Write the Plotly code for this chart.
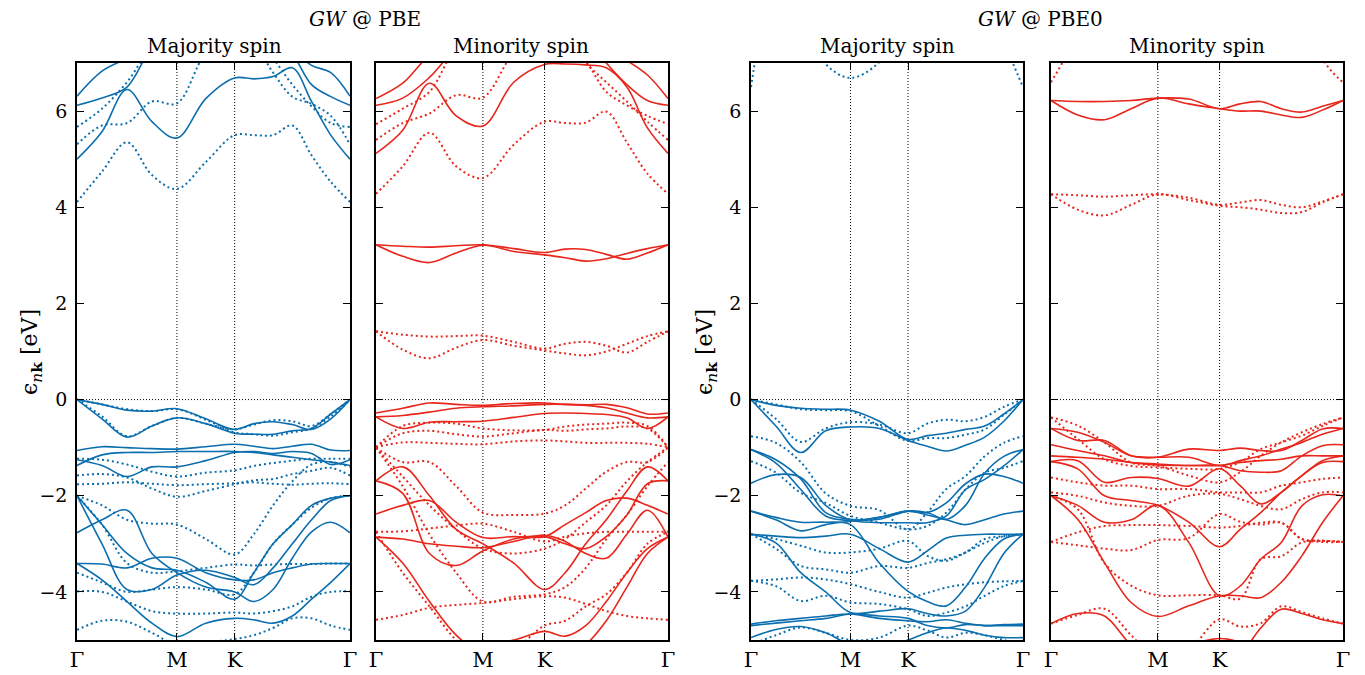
import plotly.graph_objects as go

# ---------------- data ----------------
K_PATH = [0.0, 0.1443, 0.2887, 0.4330, 0.5774, 0.7440, 0.9107,
          1.0218, 1.1329, 1.2440, 1.3552, 1.4663, 1.5774]
K_TICKS = [0.0, 0.5774, 0.9107, 1.5774]
K_LABELS = ["Γ", "M", "K", "Γ"]
E_TICKS = [-4, -2, 0, 2, 4, 6]
E_LABELS = ["−4", "−2", "0", "2", "4", "6"]

# GW@PBE, majority spin
pbe_up_solid = [
    [5.0, 5.57, 6.45, 5.78, 5.44, 6.26, 6.69, 6.67, 6.72, 6.9, 6.2, 5.5, 5.0],
    [6.12, 6.27, 6.5, 7.3, 7.6, 7.8, 7.8, 7.8, 7.6, 7.2, 6.55, 6.3, 6.12],
    [6.31, 6.83, 7.1, 7.4, 7.6, 7.8, 7.8, 7.8, 7.6, 7.3, 6.95, 6.8, 6.31],
    [0.0, -0.1, -0.22, -0.24, -0.19, -0.4, -0.62, -0.5, -0.46, -0.52, -0.62, -0.4, 0.0],
    [0.0, -0.4, -0.78, -0.55, -0.38, -0.5, -0.7, -0.72, -0.72, -0.65, -0.6, -0.3, 0.0],
    [-1.06, -0.98, -1.0, -1.02, -1.03, -0.98, -0.93, -0.97, -1.02, -0.97, -0.93, -1.05, -1.06],
    [-1.37, -1.15, -1.1, -1.1, -1.08, -1.08, -1.08, -1.1, -1.15, -1.2, -1.25, -1.3, -1.37],
    [-1.25, -1.37, -1.6, -1.4, -1.4, -1.27, -1.1, -1.08, -1.12, -1.08, -1.12, -1.35, -1.25],
    [-2.0, -2.6, -3.2, -3.5, -3.55, -3.8, -4.15, -3.6, -3.0, -2.6, -2.2, -2.05, -2.0],
    [-2.0, -3.0, -3.95, -3.95, -3.65, -3.55, -3.7, -3.85, -3.5, -3.0, -2.5, -2.1, -2.0],
    [-2.77, -2.5, -2.3, -3.2, -3.6, -3.9, -4.0, -4.2, -3.95, -3.3, -2.75, -2.55, -2.77],
    [-3.41, -3.42, -3.5, -3.3, -3.3, -3.6, -3.75, -3.75, -3.6, -3.5, -3.42, -3.41, -3.41],
    [-3.41, -3.75, -4.2, -4.65, -4.93, -4.65, -4.55, -4.58, -4.65, -4.5, -4.15, -3.8, -3.41],
]
pbe_up_dotted = [
    [4.11, 4.74, 5.35, 4.67, 4.38, 4.94, 5.5, 5.5, 5.5, 5.7, 5.08, 4.53, 4.11],
    [5.31, 5.7, 5.75, 6.2, 6.16, 7.2, 7.6, 7.4, 6.8, 6.3, 6.15, 5.9, 5.31],
    [5.67, 6.05, 6.6, 7.3, 7.5, 7.8, 7.8, 7.6, 7.1, 6.55, 6.1, 5.75, 5.67],
    [0.0, -0.35, -0.76, -0.55, -0.38, -0.5, -0.62, -0.52, -0.43, -0.45, -0.55, -0.3, 0.0],
    [0.0, -0.1, -0.2, -0.24, -0.2, -0.42, -0.68, -0.72, -0.75, -0.68, -0.6, -0.35, 0.0],
    [-1.23, -1.25, -1.35, -1.5, -1.6, -1.52, -1.47, -1.38, -1.32, -1.27, -1.23, -1.23, -1.23],
    [-1.58, -1.55, -1.62, -1.85, -2.02, -1.9, -1.76, -1.68, -1.65, -1.55, -1.48, -1.42, -1.58],
    [-1.76, -1.75, -1.72, -1.75, -1.78, -1.76, -1.74, -1.72, -1.75, -1.77, -1.75, -1.74, -1.76],
    [-2.0, -2.2, -2.5, -2.58, -2.6, -2.9, -3.22, -2.8, -2.2, -1.7, -1.35, -1.3, -1.4],
    [-2.0, -2.6, -3.4, -3.6, -3.57, -3.5, -3.43, -3.45, -3.43, -3.42, -3.42, -3.41, -3.41],
    [-3.99, -4.0, -4.2, -4.4, -4.45, -4.45, -4.43, -4.45, -4.4, -4.3, -4.1, -4.0, -3.99],
    [-4.79, -4.6, -4.62, -4.85, -5.1, -5.05, -4.98, -4.9, -4.75, -4.55, -4.55, -4.7, -4.79],
    [-3.6, -3.8, -4.0, -3.95, -3.9, -3.95, -4.05, -3.6, -3.0, -2.6, -2.25, -2.05, -2.0],
]

# GW@PBE, minority spin
pbe_dn_solid = [
    [5.12, 5.6, 6.58, 5.9, 5.69, 6.6, 6.97, 6.98, 6.96, 6.9, 6.5, 5.65, 5.12],
    [6.12, 6.27, 6.7, 7.3, 7.6, 7.8, 7.8, 7.8, 7.5, 7.0, 6.55, 6.22, 6.12],
    [6.26, 6.58, 7.15, 7.4, 7.6, 7.8, 7.8, 7.8, 7.6, 7.3, 7.05, 6.75, 6.26],
    [3.22, 3.19, 3.17, 3.2, 3.22, 3.14, 3.06, 3.13, 3.12, 3.02, 2.92, 3.05, 3.22],
    [3.22, 2.98, 2.85, 3.05, 3.21, 3.08, 3.01, 2.95, 2.88, 2.93, 3.04, 3.14, 3.22],
    [-0.28, -0.18, -0.07, -0.1, -0.12, -0.08, -0.07, -0.1, -0.11, -0.1, -0.17, -0.3, -0.28],
    [-0.36, -0.33, -0.26, -0.18, -0.15, -0.13, -0.1, -0.1, -0.12, -0.17, -0.28, -0.38, -0.36],
    [-0.36, -0.6, -0.47, -0.46, -0.45, -0.37, -0.29, -0.28, -0.29, -0.31, -0.38, -0.6, -0.36],
    [-1.69, -1.4, -2.0, -2.7, -3.0, -3.4, -3.95, -3.6, -3.0, -2.5, -1.9, -1.4, -1.69],
    [-2.38, -2.2, -2.1, -2.55, -2.87, -2.85, -2.85, -2.6, -2.35, -2.1, -2.05, -2.2, -2.38],
    [-2.86, -2.9, -3.0, -3.05, -3.08, -2.95, -2.82, -2.95, -3.2, -3.3, -2.8, -2.3, -2.86],
    [-2.86, -3.4, -4.2, -4.9, -5.3, -5.5, -5.5, -5.4, -5.1, -4.6, -3.9, -3.2, -2.86],
    [-1.69, -1.95, -3.2, -3.45, -3.15, -2.9, -2.85, -3.0, -3.1, -2.85, -2.4, -1.75, -1.69],
    [-5.5, -5.3, -5.3, -5.2, -5.1, -5.0, -4.82, -4.92, -4.7, -4.2, -3.6, -3.1, -2.86],
]
pbe_dn_dotted = [
    [4.28, 4.85, 5.55, 4.85, 4.61, 5.3, 5.78, 5.75, 5.76, 5.99, 5.35, 4.7, 4.28],
    [5.4, 5.75, 5.95, 6.33, 6.28, 7.2, 7.6, 7.5, 7.0, 6.6, 6.2, 5.78, 5.4],
    [5.73, 6.05, 6.4, 7.3, 7.6, 7.8, 7.8, 7.5, 7.05, 6.4, 6.12, 5.9, 5.73],
    [1.42, 1.35, 1.31, 1.32, 1.33, 1.2, 1.06, 1.16, 1.2, 1.12, 0.98, 1.2, 1.42],
    [1.42, 1.04, 0.86, 1.08, 1.24, 1.12, 1.02, 0.96, 0.92, 1.0, 1.16, 1.32, 1.42],
    [-0.99, -0.55, -0.48, -0.5, -0.6, -0.64, -0.63, -0.56, -0.52, -0.5, -0.48, -0.55, -0.99],
    [-0.99, -0.7, -0.65, -0.72, -0.77, -0.7, -0.63, -0.65, -0.62, -0.6, -0.56, -0.6, -0.99],
    [-0.99, -0.89, -0.9, -0.92, -0.93, -0.87, -0.85, -0.87, -0.9, -0.9, -0.9, -0.92, -0.99],
    [-2.75, -2.74, -2.68, -2.62, -2.58, -2.75, -2.95, -2.85, -2.78, -2.75, -2.75, -2.75, -2.75],
    [-1.0, -1.3, -1.3, -1.8, -2.35, -2.4, -2.37, -2.2, -1.85, -1.5, -1.3, -1.3, -1.0],
    [-1.0, -1.6, -2.2, -2.7, -3.1, -3.2, -3.1, -2.9, -2.55, -2.2, -1.7, -1.3, -1.0],
    [-4.58, -4.48, -4.33, -4.27, -4.23, -4.15, -4.09, -4.12, -4.25, -4.4, -4.5, -4.55, -4.58],
    [-2.75, -3.6, -4.3, -5.0, -5.4, -5.2, -4.7, -4.6, -4.3, -4.05, -3.6, -3.0, -2.75],
    [-1.0, -1.8, -2.8, -3.6, -4.2, -4.1, -4.05, -3.9, -3.5, -2.9, -2.4, -1.8, -1.3],
]

# GW@PBE0, majority spin
pbe0_up_solid = [
    [0.0, -0.12, -0.18, -0.2, -0.22, -0.45, -0.83, -0.75, -0.7, -0.62, -0.55, -0.3, 0.0],
    [0.0, -0.55, -1.1, -0.65, -0.57, -0.6, -0.85, -0.97, -1.07, -0.95, -0.78, -0.45, 0.0],
    [-1.04, -1.25, -1.65, -2.35, -2.49, -2.49, -2.32, -2.35, -2.49, -2.2, -1.53, -1.18, -1.04],
    [-1.04, -1.32, -1.87, -2.42, -2.52, -2.56, -2.56, -2.56, -2.42, -1.87, -1.66, -1.38, -1.04],
    [-1.74, -1.56, -1.62, -2.2, -2.5, -2.45, -2.32, -2.35, -2.15, -1.75, -1.55, -1.6, -1.74],
    [-2.32, -2.5, -2.73, -2.6, -2.53, -2.45, -2.32, -2.4, -2.5, -2.6, -2.5, -2.38, -2.32],
    [-2.8, -2.84, -2.87, -2.84, -2.8, -3.1, -3.38, -3.15, -2.88, -2.82, -2.8, -2.8, -2.8],
    [-2.8, -2.98, -3.6, -4.0, -4.43, -4.4, -4.35, -4.45, -4.5, -4.4, -3.9, -3.2, -2.8],
    [-2.32, -2.45, -2.55, -2.55, -2.6, -3.4, -3.99, -4.2, -4.29, -3.9, -3.3, -2.9, -2.8],
    [-4.67, -4.6, -4.55, -4.5, -4.46, -4.55, -4.6, -4.62, -4.58, -4.65, -4.7, -4.68, -4.67],
    [-4.7, -4.65, -4.6, -4.55, -4.46, -4.5, -4.55, -4.7, -4.75, -4.68, -4.7, -4.7, -4.7],
    [-4.95, -4.78, -4.72, -4.85, -5.1, -5.2, -5.0, -4.85, -4.75, -4.8, -4.9, -4.95, -4.95],
]
pbe0_up_dotted = [
    [6.5, 8.4, 8.0, 6.98, 6.69, 7.02, 8.0, 9.0, 9.0, 9.0, 9.0, 7.5, 6.5],
    [0.0, -0.4, -0.88, -0.6, -0.47, -0.52, -0.7, -0.5, -0.42, -0.45, -0.36, -0.15, 0.0],
    [0.0, -0.1, -0.2, -0.22, -0.24, -0.55, -0.86, -0.8, -0.8, -0.73, -0.62, -0.32, 0.0],
    [-0.76, -0.9, -1.3, -1.95, -2.21, -2.3, -2.7, -2.35, -1.86, -1.59, -1.18, -0.9, -0.76],
    [-1.28, -1.52, -1.94, -2.15, -2.42, -2.56, -2.7, -2.63, -2.35, -1.87, -1.52, -1.42, -1.28],
    [-2.8, -2.9, -3.04, -3.18, -3.18, -3.1, -2.94, -3.25, -3.35, -3.18, -2.98, -2.84, -2.8],
    [-2.8, -3.1, -3.46, -3.53, -3.6, -3.46, -3.5, -3.4, -3.32, -3.18, -2.9, -2.84, -2.8],
    [-3.77, -3.74, -3.7, -3.74, -3.84, -4.0, -4.12, -4.02, -3.91, -3.84, -3.8, -3.78, -3.77],
    [-3.77, -3.88, -4.19, -4.08, -4.22, -4.25, -4.36, -4.5, -4.43, -4.3, -4.08, -3.88, -3.77],
    [-5.1, -4.9, -4.74, -4.85, -5.0, -4.95, -4.7, -4.8, -4.95, -4.85, -4.9, -5.0, -5.1],
]

# GW@PBE0, minority spin
pbe0_dn_solid = [
    [6.22, 6.2, 6.2, 6.22, 6.27, 6.25, 6.05, 6.15, 6.2, 6.05, 5.98, 6.1, 6.22],
    [6.22, 5.92, 5.82, 6.05, 6.27, 6.15, 6.05, 6.0, 6.0, 5.92, 5.87, 6.02, 6.22],
    [-0.6, -0.68, -0.89, -1.17, -1.2, -1.2, -1.37, -1.27, -1.17, -1.03, -0.89, -0.72, -0.6],
    [-0.6, -0.85, -0.85, -1.17, -1.2, -1.03, -1.06, -1.01, -1.06, -1.06, -0.85, -0.61, -0.6],
    [-0.94, -1.06, -1.17, -1.31, -1.36, -1.37, -1.37, -1.48, -1.51, -1.48, -1.17, -0.96, -0.94],
    [-1.17, -1.2, -1.24, -1.31, -1.34, -1.37, -1.37, -1.31, -1.27, -1.24, -1.17, -1.17, -1.17],
    [-1.29, -1.27, -1.72, -1.62, -1.64, -1.8, -1.44, -1.79, -2.17, -1.93, -1.58, -1.31, -1.29],
    [-1.29, -1.44, -2.0, -2.1, -2.2, -2.55, -3.06, -2.7, -2.35, -1.93, -1.58, -1.27, -1.17],
    [-2.0, -2.2, -2.55, -2.5, -2.2, -2.97, -4.08, -3.88, -3.32, -2.97, -2.21, -1.98, -2.0],
    [-2.0, -2.49, -3.39, -4.22, -4.51, -4.29, -4.08, -4.08, -4.12, -3.8, -3.25, -2.56, -2.0],
    [-4.66, -4.45, -4.5, -5.1, -5.4, -5.5, -5.5, -5.3, -4.75, -4.36, -4.45, -4.58, -4.66],
    [-5.5, -5.5, -5.5, -5.4, -5.3, -5.1, -4.97, -5.05, -5.3, -5.5, -5.5, -5.5, -5.5],
]
pbe0_dn_dotted = [
    [6.6, 7.6, 9.0, 9.0, 9.0, 9.0, 9.0, 9.0, 9.0, 9.0, 9.0, 7.1, 6.6],
    [4.27, 4.25, 4.22, 4.25, 4.27, 4.2, 4.05, 4.1, 4.15, 4.05, 4.0, 4.12, 4.27],
    [4.27, 3.95, 3.83, 4.05, 4.27, 4.15, 4.03, 4.0, 3.95, 3.88, 3.9, 4.1, 4.27],
    [-0.37, -0.54, -0.89, -1.31, -1.38, -1.58, -1.72, -1.51, -1.17, -0.89, -0.68, -0.51, -0.37],
    [-0.37, -0.82, -1.24, -1.38, -1.41, -1.44, -1.44, -1.3, -1.03, -0.89, -0.75, -0.55, -0.37],
    [-1.62, -1.72, -1.79, -1.79, -1.86, -1.86, -1.93, -1.93, -1.93, -1.79, -1.72, -1.65, -1.62],
    [-1.93, -2.0, -2.14, -2.21, -2.21, -2.0, -1.96, -2.07, -2.21, -2.28, -2.07, -1.93, -1.93],
    [-2.96, -2.76, -2.63, -2.61, -2.61, -2.63, -2.66, -2.63, -2.56, -2.56, -2.9, -2.93, -2.96],
    [-2.96, -3.03, -3.1, -3.13, -2.92, -2.88, -2.38, -2.54, -2.6, -2.56, -2.9, -2.96, -2.96],
    [-2.0, -2.28, -3.4, -3.87, -4.07, -4.07, -4.07, -4.14, -3.32, -3.26, -2.97, -2.94, -2.96],
    [-4.66, -4.48, -4.35, -4.9, -5.4, -5.2, -4.57, -4.72, -4.65, -4.3, -4.42, -4.55, -4.66],
]

# ---------------- layout ----------------
W, H = 1365, 675
OFF = 8  # page body margin in the browser
BLUE = "#0b6eae"
RED = "#e8261b"
FONT = "DejaVu Serif"
Y_TOP, Y_BOT = 63, 640

panels = [
    (pbe_up_solid, pbe_up_dotted, BLUE, (77, 350), True),
    (pbe_dn_solid, pbe_dn_dotted, RED, (376, 668), False),
    (pbe0_up_solid, pbe0_up_dotted, BLUE, (751, 1023), True),
    (pbe0_dn_solid, pbe0_dn_dotted, RED, (1051, 1343), False),
]


def px_x(p):
    return (p - OFF) / W


def px_y(p):
    return 1 - (p - OFF) / H


fig = go.Figure()
shapes = []
layout_axes = {}
for i, (solid, dotted, color, (x0, x1), labels) in enumerate(panels):
    n = i + 1
    xa = "x" if n == 1 else f"x{n}"
    ya = "y" if n == 1 else f"y{n}"
    for band in dotted:
        fig.add_trace(go.Scatter(x=K_PATH, y=band, xaxis=xa, yaxis=ya, mode="lines",
                                 line=dict(color=color, width=2, dash="2px,3px", shape="spline", smoothing=1.0),
                                 showlegend=False, hoverinfo="skip"))
    for band in solid:
        fig.add_trace(go.Scatter(x=K_PATH, y=band, xaxis=xa, yaxis=ya, mode="lines",
                                 line=dict(color=color, width=1.6, shape="spline", smoothing=1.0),
                                 showlegend=False, hoverinfo="skip"))
    xkey = "xaxis" if n == 1 else f"xaxis{n}"
    ykey = "yaxis" if n == 1 else f"yaxis{n}"
    layout_axes[xkey] = dict(
        domain=[px_x(x0), px_x(x1)], anchor=ya, range=[K_TICKS[0], K_TICKS[-1]],
        tickmode="array", tickvals=K_TICKS, ticktext=K_LABELS,
        ticks="inside", ticklen=7, tickcolor="black", tickwidth=1,
        showline=True, linecolor="black", linewidth=1.6, mirror="ticks",
        showgrid=False, zeroline=False, ticklabelstandoff=0, automargin=False,
        tickfont=dict(family=FONT, size=21, color="black"), fixedrange=True,
    )
    layout_axes[ykey] = dict(
        domain=[px_y(Y_BOT), px_y(Y_TOP)], anchor=xa, range=[-5, 7],
        tickmode="array", tickvals=E_TICKS, ticktext=E_LABELS, showticklabels=labels,
        ticks="inside", ticklen=7, tickcolor="black", tickwidth=1.3,
        showline=True, linecolor="black", linewidth=1.6, mirror="ticks",
        showgrid=False, zeroline=False, ticklabelstandoff=4, automargin=False,
        tickfont=dict(family=FONT, size=19, color="black"), fixedrange=True,
    )
    for kv in K_TICKS[1:-1]:
        shapes.append(dict(type="line", xref=xa, yref=ya, x0=kv, x1=kv, y0=-5, y1=7,
                           line=dict(color="black", width=1, dash="1px,2px"), layer="below"))
    shapes.append(dict(type="line", xref=xa, yref=ya, x0=K_TICKS[0], x1=K_TICKS[-1], y0=0, y1=0,
                       line=dict(color="black", width=1, dash="1px,2px"), layer="below"))


def ann(text, xpx, ypx, size=20, angle=0):
    return dict(text=text, x=px_x(xpx), y=px_y(ypx), xref="paper", yref="paper",
                showarrow=False, textangle=angle, xanchor="center", yanchor="middle",
                font=dict(family=FONT, size=size, color="black"))


annotations = [
    ann("<i>GW</i> @ PBE", 365, 19),
    ann("Majority spin", 214, 46),
    ann("Minority spin", 521, 46),
    ann("<i>GW</i> @ PBE0", 1040, 19),
    ann("Majority spin", 887, 46),
    ann("Minority spin", 1197, 46),
    ann("ϵ<sub><i>n</i><b>k</b></sub> [eV]", 31, 352, size=22, angle=-90),
    ann("ϵ<sub><i>n</i><b>k</b></sub> [eV]", 706, 352, size=22, angle=-90),
]

fig.update_layout(
    width=W, height=H, margin=dict(l=0, r=0, t=0, b=0, autoexpand=False),
    paper_bgcolor="white", plot_bgcolor="white",
    shapes=shapes, annotations=annotations, showlegend=False,
    **layout_axes,
)

fig.write_html("out.html")
